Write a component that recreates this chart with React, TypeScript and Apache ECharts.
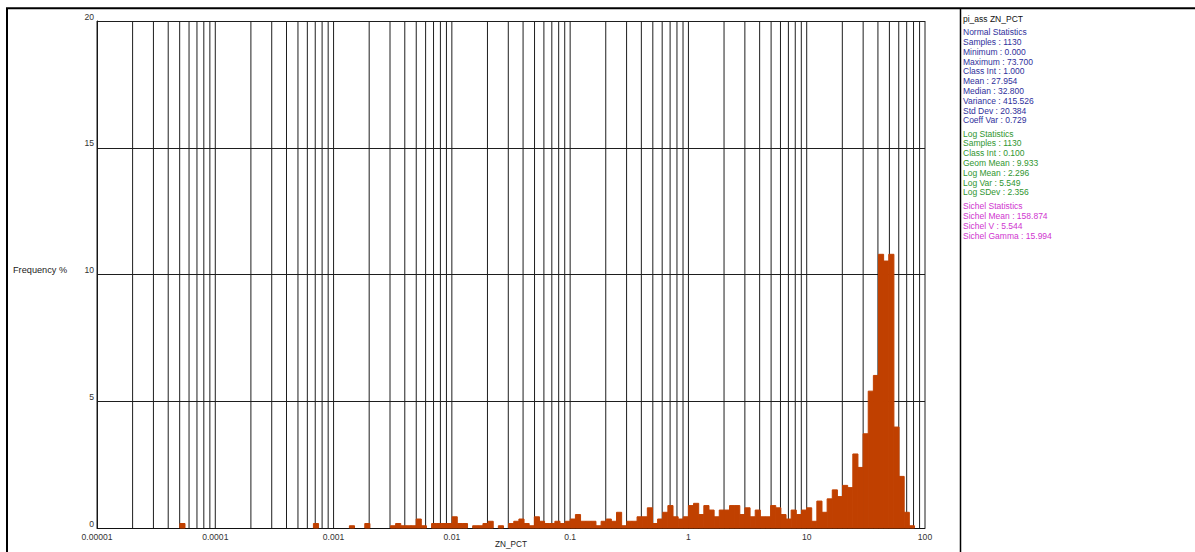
import React, { useEffect, useRef } from "react";
import * as echarts from "echarts";

// ---- data ----
const SAMPLES = 1130;
const CLASS_INT_LN = 0.1; // class interval in natural-log units

// lower edge (ln) of each occupied class, and its sample count
const binLn = [
  -9.9, -7.3, -6.6, -6.3, -5.8, -5.7, -5.6, -5.5, -5.4, -5.3, -5.2, -5.0, -4.9, -4.8, -4.7,
  -4.6, -4.5, -4.4, -4.2, -4.1, -4.0, -3.9, -3.7, -3.5, -3.4, -3.3, -3.2, -3.1, -3.0, -2.9,
  -2.8, -2.7, -2.6, -2.5, -2.4, -2.3, -2.2, -2.1, -2.0, -1.9, -1.8,
  -1.7, -1.6, -1.5, -1.4, -1.3, -1.2, -1.1, -1.0, -0.9, -0.8, -0.7, -0.6, -0.5, -0.4, -0.3,
  -0.2, -0.1, 0.0, 0.1, 0.2, 0.3, 0.4, 0.5, 0.6, 0.7, 0.8, 0.9, 1.0, 1.1, 1.2,
  1.3, 1.4, 1.5, 1.6, 1.7, 1.8, 1.9, 2.0, 2.1, 2.2, 2.3, 2.4, 2.5, 2.6, 2.7,
  2.8, 2.9, 3.0, 3.1, 3.2, 3.3, 3.4, 3.5, 3.6, 3.7, 3.8, 3.9, 4.0, 4.1, 4.2, 4.3,
];
const binCount = [
  2, 2, 1, 2, 1, 2, 1, 1, 1, 4, 1, 2, 2, 2, 2,
  5, 2, 2, 1, 1, 2, 3, 1, 2, 3, 4, 2, 1, 5, 3,
  2, 2, 3, 2, 3, 4, 6, 3, 3, 3, 1,
  3, 4, 3, 7, 1, 3, 3, 5, 5, 9, 2, 4, 7, 10, 5,
  4, 5, 10, 11, 6, 10, 8, 5, 8, 8, 10, 10, 6, 9, 5,
  8, 5, 5, 10, 9, 6, 4, 8, 6, 8, 9, 3, 12, 7, 13,
  17, 14, 19, 18, 33, 27, 42, 61, 68, 122, 119, 122, 45, 23, 7, 1,
];

const xTickLabels = ["0.00001", "0.0001", "0.001", "0.01", "0.1", "1", "10", "100"];
const xMin = 0.00001;
const xMax = 100;
const yMin = 0;
const yMax = 20;
const yInterval = 5;

const titleLine = "pi_ass ZN_PCT";
const normalStats = [
  "Normal Statistics",
  "Samples : 1130",
  "Minimum : 0.000",
  "Maximum : 73.700",
  "Class Int : 1.000",
  "Mean : 27.954",
  "Median : 32.800",
  "Variance : 415.526",
  "Std Dev : 20.384",
  "Coeff Var : 0.729",
];
const logStats = [
  "Log Statistics",
  "Samples : 1130",
  "Class Int : 0.100",
  "Geom Mean : 9.933",
  "Log Mean : 2.296",
  "Log Var : 5.549",
  "Log SDev : 2.356",
];
const sichelStats = [
  "Sichel Statistics",
  "Sichel Mean : 158.874",
  "Sichel V : 5.544",
  "Sichel Gamma : 15.994",
];

const FONT = "'Liberation Sans', Arial, sans-serif";
const BAR_COLOR = "#c04000";
const GRID_COLOR = "#1e1e1e";

export default function App() {
  const ref = useRef<HTMLDivElement>(null);

  useEffect(() => {
    document.body.style.margin = "0";
    if (!ref.current) return;
    const chart = echarts.init(ref.current, undefined, { renderer: "svg" });

    const barData = binLn.map((ln, i) => [
      Math.exp(ln),
      Math.exp(ln + CLASS_INT_LN),
      (binCount[i] / SAMPLES) * 100,
    ]);

    // vertical log grid lines at k * 10^n
    const gridVals: number[][] = [];
    for (let e = -5; e <= 1; e++) {
      for (let k = 1; k <= 9; k++) gridVals.push([k * Math.pow(10, e), 0]);
    }
    gridVals.push([100, 0]);

    const statTexts: any[] = [];
    const sx = 963;
    statTexts.push({ type: "text", x: sx, y: 19, style: { text: titleLine, fill: "#111", font: `8.5px ${FONT}`, verticalAlign: "middle" } });
    let y = 32.3;
    normalStats.forEach((t) => {
      statTexts.push({ type: "text", x: sx, y, style: { text: t, fill: "#2f2f9c", font: `8.5px ${FONT}`, verticalAlign: "middle" } });
      y += 9.78;
    });
    y = 133.7;
    logStats.forEach((t) => {
      statTexts.push({ type: "text", x: sx, y, style: { text: t, fill: "#2f962f", font: `8.5px ${FONT}`, verticalAlign: "middle" } });
      y += 9.77;
    });
    y = 205.7;
    sichelStats.forEach((t) => {
      statTexts.push({ type: "text", x: sx, y, style: { text: t, fill: "#cf35cf", font: `8.5px ${FONT}`, verticalAlign: "middle" } });
      y += 10;
    });

    chart.setOption({
      animation: false,
      backgroundColor: "#ffffff",
      grid: { left: 97, right: 270, top: 21, bottom: 24, containLabel: false },
      xAxis: {
        type: "log",
        logBase: 10,
        min: xMin,
        max: xMax,
        splitNumber: 7,
        axisLine: { show: true, lineStyle: { color: "#111", width: 1 } },
        axisTick: { show: false },
        splitLine: { show: false },
        axisLabel: {
          show: true,
          showMinLabel: true,
          showMaxLabel: true,
          margin: 4,
          color: "#333",
          fontSize: 8.6,
          fontFamily: FONT,
          formatter: (v: number) => {
            const idx = Math.round(Math.log10(v)) + 5;
            return xTickLabels[idx] ?? "";
          },
        },
      },
      yAxis: {
        type: "value",
        min: yMin,
        max: yMax,
        interval: yInterval,
        axisLine: { show: true, lineStyle: { color: "#111", width: 1 } },
        axisTick: { show: false },
        splitLine: { show: true, lineStyle: { color: GRID_COLOR, width: 1 } },
        axisLabel: {
          margin: 3,
          color: "#333",
          fontSize: 8.6,
          fontFamily: FONT,
          verticalAlign: "bottom",
        },
      },
      series: [
        {
          type: "custom",
          name: "grid",
          silent: true,
          z: 1,
          data: gridVals,
          encode: { x: 0, y: 1 },
          renderItem: (params: any, api: any) => {
            const v = api.value(0);
            const p0 = api.coord([v, yMin]);
            const p1 = api.coord([v, yMax]);
            return {
              type: "line",
              shape: { x1: p0[0], y1: p0[1], x2: p1[0], y2: p1[1] },
              style: { stroke: GRID_COLOR, lineWidth: 1 },
            };
          },
        },
        {
          type: "custom",
          name: "ZN_PCT",
          silent: true,
          z: 2,
          data: barData,
          encode: { x: [0, 1], y: 2 },
          renderItem: (params: any, api: any) => {
            const lo = api.value(0);
            const hi = api.value(1);
            const v = api.value(2);
            const p0 = api.coord([lo, v]);
            const p1 = api.coord([hi, 0]);
            return {
              type: "rect",
              shape: { x: p0[0], y: p0[1], width: p1[0] - p0[0], height: p1[1] - p0[1] },
              style: { fill: BAR_COLOR, stroke: BAR_COLOR, lineWidth: 1 },
            };
          },
        },
      ],
      graphic: [
        { type: "line", shape: { x1: 7, y1: 8, x2: 7, y2: 552 }, style: { stroke: "#000", lineWidth: 2 } },
        { type: "line", shape: { x1: 6, y1: 8.3, x2: 1195, y2: 8.3 }, style: { stroke: "#000", lineWidth: 2 } },
        { type: "line", shape: { x1: 960.5, y1: 8, x2: 960.5, y2: 552 }, style: { stroke: "#000", lineWidth: 1.5 } },
        { type: "text", x: 13, y: 270, style: { text: "Frequency %", fill: "#222", font: `9.2px ${FONT}`, verticalAlign: "middle" } },
        { type: "text", x: 511, y: 544.5, style: { text: "ZN_PCT", fill: "#222", font: `8.2px ${FONT}`, align: "center", verticalAlign: "middle" } },
        ...statTexts,
      ],
    });

    return () => chart.dispose();
  }, []);

  return <div ref={ref} style={{ width: 1195, height: 552 }} />;
}
